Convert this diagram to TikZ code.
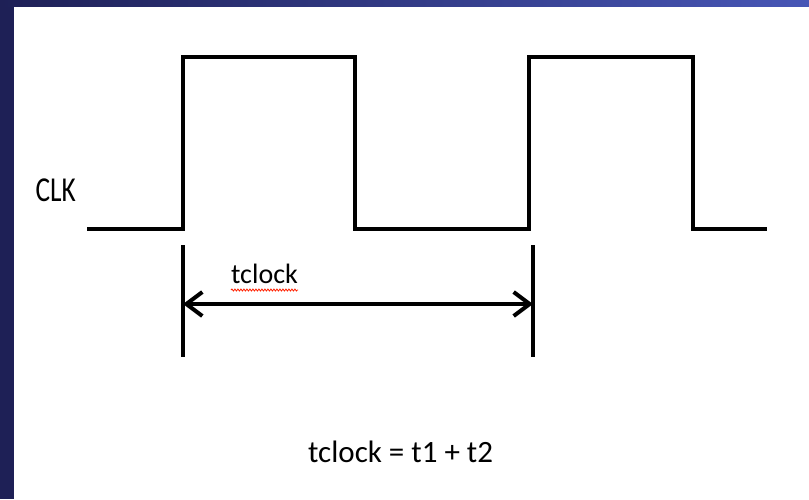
\documentclass[tikz,border=0pt]{standalone}
\usepackage{fontspec}
\setmainfont{Carlito}
\newfontfamily\narrowfont[FakeStretch=0.78]{Carlito}
\usetikzlibrary{arrows.meta, decorations.pathmorphing}

\definecolor{navy}{HTML}{1E2056}
\definecolor{navylight}{HTML}{4756B6}

\tikzset{
  wave/.style={line width=4pt, line join=miter},
  markline/.style={line width=4pt},
  span/.style={line width=4pt, {Straight Barb[length=16pt,width=24pt,line width=4pt]}-{Straight Barb[length=16pt,width=24pt,line width=4pt]}},
  lbl/.style={inner sep=0pt, font=\fontsize{31}{37}\selectfont},
  squiggle/.style={red!75!orange, line width=0.8pt, decorate, decoration={snake, amplitude=1pt, segment length=3pt}}
}

\begin{document}
\begin{tikzpicture}[x=1pt, y=-1pt]
\useasboundingbox (0,0) rectangle (809,499);

% slide frame
\fill[navy] (0,0) rectangle (14,499);
\shade[left color=navy, right color=navylight] (0,0) rectangle (809,6);

% clock edges
\coordinate (start) at (87,229);
\coordinate (rise1) at (183,57);
\coordinate (fall1) at (355,229);
\coordinate (rise2) at (529,57);
\coordinate (fall2) at (693,229);
\coordinate (stop)  at (767,229);

\draw[wave] (start) -| (rise1) -| (fall1) -| (rise2) -| (fall2) -- (stop);

% period markers
\coordinate (m1top) at (183,245);
\coordinate (m1bot) at (183,357);
\coordinate (m2top) at (533,245);
\coordinate (m2bot) at (533,357);
\coordinate (p1) at (183,304);
\coordinate (p2) at (533,304);

\draw[markline] (m1top) -- (m1bot);
\draw[markline] (m2top) -- (m2bot);
\draw[span] (p1) -- (p2);

% labels
\node[lbl, anchor=base east, font=\narrowfont\fontsize{35}{42}\selectfont] (clk) at (76,201) {CLK};
\node[lbl, anchor=base west, font=\fontsize{28}{34}\selectfont] (tlab) at (231,283) {tclock};
\draw[squiggle] ([yshift=-7pt]tlab.base west) -- ([yshift=-7pt]tlab.base east);
\node[lbl, anchor=base west] (eq) at (308,462) {tclock = t1 + t2};
\end{tikzpicture}
\end{document}
